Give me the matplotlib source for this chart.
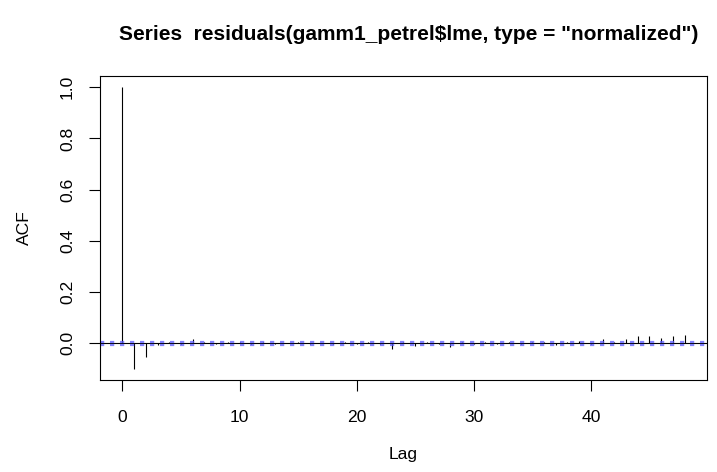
import matplotlib
matplotlib.use("Agg")
import matplotlib.pyplot as plt
import numpy as np

plt.rcParams['font.family'] = ['Liberation Sans', 'DejaVu Sans']

title = 'Series  residuals(gamm1_petrel$lme, type = "normalized")'

# autocorrelation at lags 0..48
lags = list(range(49))
acf = [1.0, -0.100, -0.055, -0.008, 0.003, -0.004, 0.017, 0.004, -0.005, 0.004,
       0.003, -0.004, 0.003, -0.003, 0.002, 0.004, -0.003, 0.002, -0.004, 0.003,
       -0.003, 0.004, -0.004, -0.022, 0.003, -0.010, 0.003, -0.004, -0.014, 0.003,
       -0.004, 0.004, -0.003, 0.003, -0.003, 0.003, 0.004, -0.006, 0.003, 0.008,
       -0.004, 0.017, 0.003, 0.018, 0.027, 0.027, 0.022, 0.026, 0.031]
ci = 0.006
xticks = [0, 10, 20, 30, 40]
yticks = [0.0, 0.2, 0.4, 0.6, 0.8, 1.0]

W, H = 717, 472
fig = plt.figure(figsize=(W / 100, H / 100), dpi=100)
ax = fig.add_axes([100 / W, 1 - 380 / H, 607 / W, 304 / H])

ax.vlines(lags, 0, acf, color="black", lw=0.8)
ax.axhline(0, color="black", lw=0.8)
for c in (ci, -ci):
    ax.axhline(c, color="#5a5aff", lw=1.6, ls=(0, (1.9, 2.6)), alpha=0.75)

xpad = 0.04 * (max(lags) - min(lags))
ax.set_xlim(min(lags) - xpad, max(lags) + xpad)
ylo, yhi = min(acf), max(acf)
ypad = 0.04 * (yhi - ylo)
ax.set_ylim(ylo - ypad, yhi + ypad)

fs = 12.6
ax.set_xticks(xticks)
ax.set_xticklabels([str(t) for t in xticks], fontsize=fs)
ax.set_yticks(yticks)
ax.set_yticklabels([f"{t:.1f}" for t in yticks], fontsize=fs, rotation=90, va="center")
ax.tick_params(direction="out", length=8, width=0.8)
ax.tick_params(axis="x", pad=13.5)
ax.tick_params(axis="y", pad=10)
for s in ax.spines.values():
    s.set_linewidth(0.8)

ax.set_xlabel("Lag", fontsize=fs, labelpad=16)
ax.set_ylabel("ACF", fontsize=fs, labelpad=20)
fig.text(409 / W, 1 - 34 / H, title, ha="center", va="center",
         fontsize=15, fontweight="bold")

fig.savefig("out.png", dpi=100)
